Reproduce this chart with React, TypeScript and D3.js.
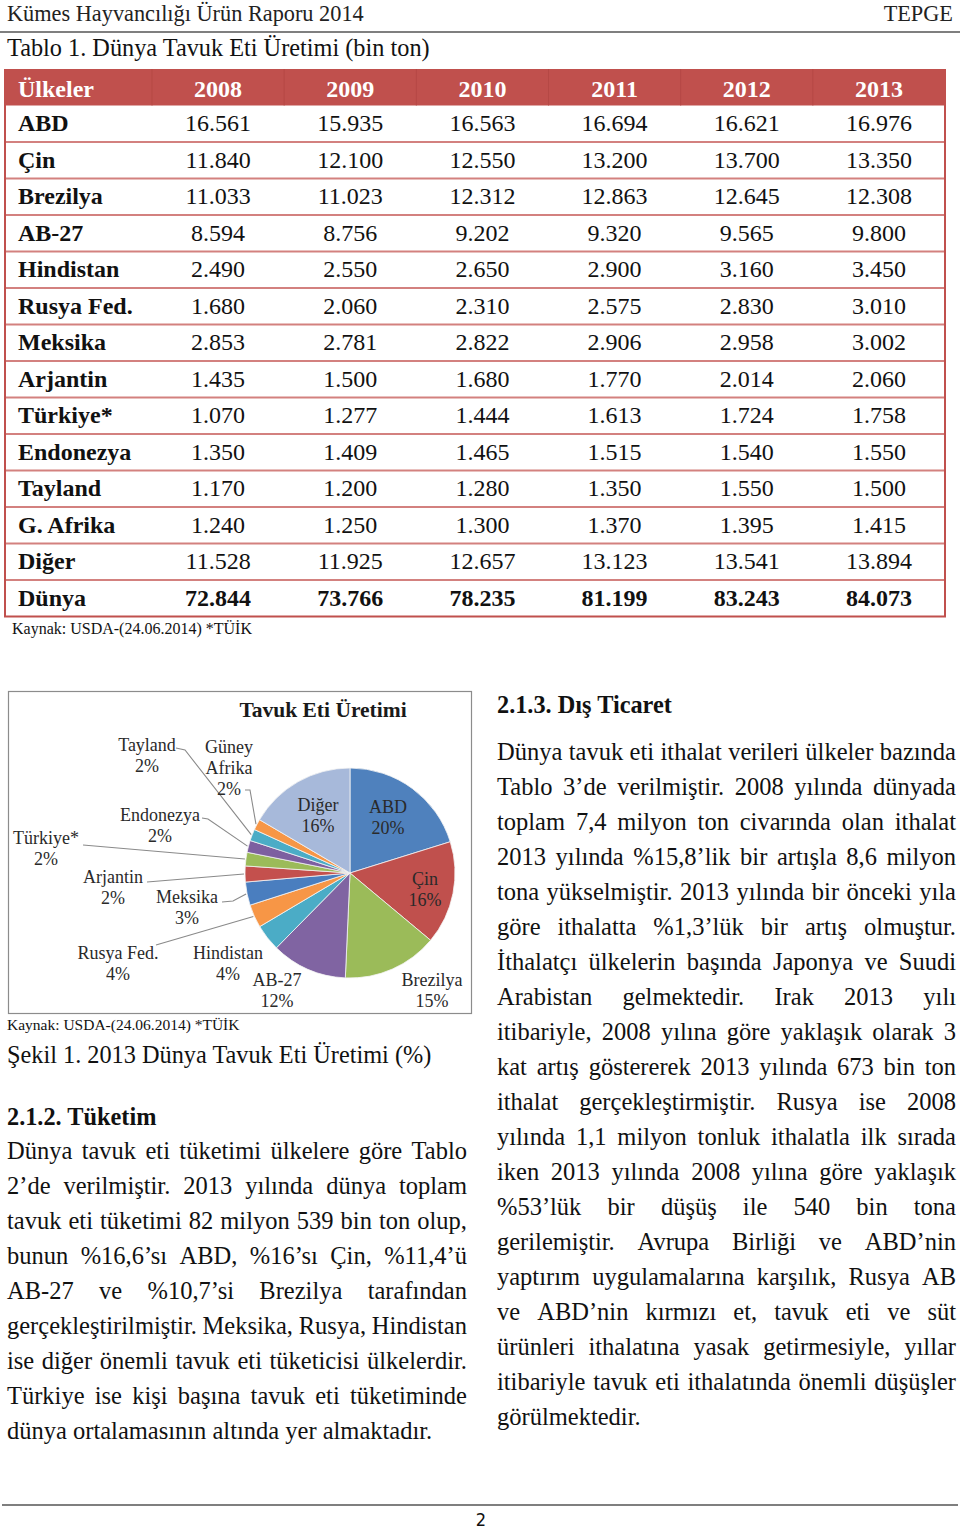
import React, { useMemo } from 'react';
import * as d3 from 'd3';

// ---------------- DATA ----------------
const years = ['2008', '2009', '2010', '2011', '2012', '2013'];
const countries = ['ABD', 'Çin', 'Brezilya', 'AB-27', 'Hindistan', 'Rusya Fed.', 'Meksika', 'Arjantin', 'Türkiye*', 'Endonezya', 'Tayland', 'G. Afrika', 'Diğer', 'Dünya'];
const prod2008 = [16561, 11840, 11033, 8594, 2490, 1680, 2853, 1435, 1070, 1350, 1170, 1240, 11528, 72844];
const prod2009 = [15935, 12100, 11023, 8756, 2550, 2060, 2781, 1500, 1277, 1409, 1200, 1250, 11925, 73766];
const prod2010 = [16563, 12550, 12312, 9202, 2650, 2310, 2822, 1680, 1444, 1465, 1280, 1300, 12657, 78235];
const prod2011 = [16694, 13200, 12863, 9320, 2900, 2575, 2906, 1770, 1613, 1515, 1350, 1370, 13123, 81199];
const prod2012 = [16621, 13700, 12645, 9565, 3160, 2830, 2958, 2014, 1724, 1540, 1550, 1395, 13541, 83243];
const prod2013 = [16976, 13350, 12308, 9800, 3450, 3010, 3002, 2060, 1758, 1550, 1500, 1415, 13894, 84073];
const yearSeries = [prod2008, prod2009, prod2010, prod2011, prod2012, prod2013];

const pieNames = ['ABD', 'Çin', 'Brezilya', 'AB-27', 'Hindistan', 'Rusya Fed.', 'Meksika', 'Arjantin', 'Türkiye*', 'Endonezya', 'Tayland', 'Güney Afrika', 'Diğer'];
const pieValues = prod2013.slice(0, 13);
const piePercents = ['20%', '16%', '15%', '12%', '4%', '4%', '3%', '2%', '2%', '2%', '2%', '2%', '16%'];
const pieColors = ['#4F81BD', '#C0504D', '#9BBB59', '#8064A2', '#4BACC6', '#F79646', '#4A7EBF', '#C4504D', '#9BBB59', '#7D5FA0', '#4BACC6', '#F79646', '#A7B9DA'];

const leftParagraph = [
  'Dünya tavuk eti tüketimi ülkelere göre Tablo',
  '2’de verilmiştir. 2013 yılında dünya toplam',
  'tavuk eti tüketimi 82 milyon 539 bin ton olup,',
  'bunun %16,6’sı ABD, %16’sı Çin, %11,4’ü',
  'AB-27 ve %10,7’si Brezilya tarafından',
  'gerçekleştirilmiştir. Meksika, Rusya, Hindistan',
  'ise diğer önemli tavuk eti tüketicisi ülkelerdir.',
  'Türkiye ise kişi başına tavuk eti tüketiminde',
  'dünya ortalamasının altında yer almaktadır.',
];
const rightParagraph = [
  'Dünya tavuk eti ithalat verileri ülkeler bazında',
  'Tablo 3’de verilmiştir. 2008 yılında dünyada',
  'toplam 7,4 milyon ton civarında olan ithalat',
  '2013 yılında %15,8’lik bir artışla 8,6 milyon',
  'tona yükselmiştir. 2013 yılında bir önceki yıla',
  'göre ithalatta %1,3’lük bir artış olmuştur.',
  'İthalatçı ülkelerin başında Japonya ve Suudi',
  'Arabistan gelmektedir. Irak 2013 yılı',
  'itibariyle, 2008 yılına göre yaklaşık olarak 3',
  'kat artış göstererek 2013 yılında 673 bin ton',
  'ithalat gerçekleştirmiştir. Rusya ise 2008',
  'yılında 1,1 milyon tonluk ithalatla ilk sırada',
  'iken 2013 yılında 2008 yılına göre yaklaşık',
  '%53’lük bir düşüş ile 540 bin tona',
  'gerilemiştir. Avrupa Birliği ve ABD’nin',
  'yaptırım uygulamalarına karşılık, Rusya AB',
  've ABD’nin kırmızı et, tavuk eti ve süt',
  'ürünleri ithalatına yasak getirmesiyle, yıllar',
  'itibariyle tavuk eti ithalatında önemli düşüşler',
  'görülmektedir.',
];

// ---------------- LAYOUT ----------------
const SERIF = "'Liberation Serif', 'Times New Roman', serif";
const W = 960;
const H = 1529;

// label layout for pie (x, first line center y, leader start points)
const pieLabelLayout: Record<string, { x: number; y: number; lead?: [number, number][] }> = {
  'ABD': { x: 388, y: 807 },
  'Çin': { x: 425, y: 879 },
  'Brezilya': { x: 432, y: 980 },
  'AB-27': { x: 277, y: 980 },
  'Hindistan': { x: 228, y: 953 },
  'Rusya Fed.': { x: 118, y: 953, lead: [[156, 945]] },
  'Meksika': { x: 187, y: 897, lead: [[222, 902], [233, 901]] },
  'Arjantin': { x: 113, y: 877, lead: [[147, 882]] },
  'Türkiye*': { x: 46, y: 838, lead: [[83, 845]] },
  'Endonezya': { x: 160, y: 815, lead: [[202, 818], [208, 819]] },
  'Tayland': { x: 147, y: 745, lead: [[176, 748], [185, 750]] },
  'Güney Afrika': { x: 229, y: 747, lead: [[245, 790], [250, 790]] },
  'Diğer': { x: 318, y: 805 },
};

const fmt = d3.formatLocale({ decimal: ',', thousands: '.', grouping: [3], currency: ['', ''] }).format(',');

let ctxCache: CanvasRenderingContext2D | null = null;
function measure(s: string, size: number, weight = 'normal') {
  if (!ctxCache) ctxCache = document.createElement('canvas').getContext('2d');
  const ctx = ctxCache!;
  ctx.font = `${weight} ${size}px 'Liberation Serif'`;
  return ctx.measureText(s).width;
}

function JustifiedLine({ text, x, width, y, size, justify }: { text: string; x: number; width: number; y: number; size: number; justify: boolean }) {
  if (!justify) {
    return (
      <text x={x} y={y} fontSize={size} fontFamily={SERIF} fill="#111">{text}</text>
    );
  }
  const words = text.split(' ');
  const widths = words.map((w) => measure(w, size));
  const total = d3.sum(widths);
  const gap = (width - total) / Math.max(1, words.length - 1);
  let cx = x;
  const xs = widths.map((w) => {
    const p = cx;
    cx += w + gap;
    return p;
  });
  return (
    <text y={y} fontSize={size} fontFamily={SERIF} fill="#111">
      {words.map((w, i) => (
        <tspan key={i} x={xs[i]}>{w}</tspan>
      ))}
    </text>
  );
}

function Table() {
  const col = d3.scaleBand<string>().domain(years).range([152, 945]);
  const row = d3.scaleBand<string>().domain(countries).range([105.5, 616.5]);
  const bw = row.bandwidth();
  return (
    <g>
      <rect x={5} y={69} width={940} height={36.5} fill="#C0504D" />
      {years.slice(1).map((y) => (
        <line key={y} x1={col(y)!} x2={col(y)!} y1={69} y2={105.5} stroke="#B54845" strokeWidth={1} />
      ))}
      <line x1={col('2008')!} x2={col('2008')!} y1={69} y2={105.5} stroke="#B54845" strokeWidth={1} />
      {countries.slice(0, -1).map((c) => (
        <line key={c} x1={5} x2={945} y1={row(c)! + bw} y2={row(c)! + bw} stroke="#D3817F" strokeWidth={1.8} />
      ))}
      <line x1={5} x2={5} y1={69} y2={617} stroke="#C0504D" strokeWidth={2} />
      <line x1={945} x2={945} y1={69} y2={617} stroke="#C0504D" strokeWidth={2} />
      <line x1={4} x2={946} y1={616.5} y2={616.5} stroke="#C0504D" strokeWidth={2} />
      <text x={18} y={97} fill="#fff" fontWeight="bold" fontSize={24} fontFamily={SERIF}>Ülkeler</text>
      {years.map((y) => (
        <text key={y} x={col(y)! + col.bandwidth() / 2} y={97} fill="#fff" fontWeight="bold" fontSize={24} fontFamily={SERIF} textAnchor="middle">{y}</text>
      ))}
      {countries.map((c, i) => {
        const yc = row(c)! + bw / 2 + 7.5;
        const bold = c === 'Dünya';
        return (
          <g key={c}>
            <text x={18} y={yc} fontWeight="bold" fontSize={24} fontFamily={SERIF} fill="#111">{c}</text>
            {years.map((y, j) => (
              <text key={y} x={col(y)! + col.bandwidth() / 2} y={yc} fontSize={24} fontWeight={bold ? 'bold' : 'normal'} fontFamily={SERIF} fill="#111" textAnchor="middle">
                {fmt(yearSeries[j][i])}
              </text>
            ))}
          </g>
        );
      })}
    </g>
  );
}

function Pie() {
  const cx = 350;
  const cy = 873;
  const R = 105;
  const arcs = d3.pie<number>().sort(null).value((d) => d)(pieValues);
  const arcGen = d3.arc<d3.PieArcDatum<number>>().innerRadius(0).outerRadius(R);
  return (
    <g>
      <rect x={8.5} y={691.5} width={463} height={322} fill="#fff" stroke="#8c8c8c" strokeWidth={1.2} />
      <text x={323} y={717} textAnchor="middle" fontWeight="bold" fontSize={21.5} fontFamily={SERIF} fill="#1a1a1a">Tavuk Eti Üretimi</text>
      <g transform={`translate(${cx},${cy})`}>
        {arcs.map((a, i) => (
          <path key={i} d={arcGen(a)!} fill={pieColors[i]} stroke="#f4f4f4" strokeWidth={0.8} />
        ))}
      </g>
      {arcs.map((a, i) => {
        const name = pieNames[i];
        const lay = pieLabelLayout[name];
        const mid = (a.startAngle + a.endAngle) / 2;
        const ex = cx + (R + 1) * Math.sin(mid);
        const ey = cy - (R + 1) * Math.cos(mid);
        const lines = name === 'Güney Afrika' ? ['Güney', 'Afrika', piePercents[i]] : [name, piePercents[i]];
        return (
          <g key={name}>
            {lay.lead && (
              <polyline
                points={[...lay.lead, [ex, ey]].map((p) => p.join(',')).join(' ')}
                fill="none"
                stroke="#8a8a8a"
                strokeWidth={1.1}
              />
            )}
            {lines.map((t, k) => (
              <text key={k} x={lay.x} y={lay.y + k * 21 + 6} textAnchor="middle" fontSize={18} fontFamily={SERIF} fill="#2a2a2a">{t}</text>
            ))}
          </g>
        );
      })}
    </g>
  );
}

export default function App() {
  const left = useMemo(() => leftParagraph, []);
  return (
    <svg width={W} height={H} viewBox={`0 0 ${W} ${H}`} style={{ position: 'absolute', left: 0, top: 0, display: 'block', background: '#fff' }}>
      <rect width={W} height={H} fill="#fff" />
      {/* page header */}
      <text x={7} y={21} fontSize={22.3} fontFamily={SERIF} fill="#222">Kümes Hayvancılığı Ürün Raporu 2014</text>
      <text x={953} y={21} fontSize={22.3} fontFamily={SERIF} fill="#222" textAnchor="end">TEPGE</text>
      <line x1={0} x2={960} y1={32} y2={32} stroke="#555" strokeWidth={1.6} />
      <text x={7} y={56} fontSize={24.3} fontFamily={SERIF} fill="#111">Tablo 1. Dünya Tavuk Eti Üretimi (bin ton)</text>

      <Table />
      <text x={12} y={634} fontSize={16} fontFamily={SERIF} fill="#111">Kaynak: USDA-(24.06.2014) *TÜİK</text>

      <Pie />
      <text x={7} y={1030} fontSize={15.5} fontFamily={SERIF} fill="#111">Kaynak: USDA-(24.06.2014) *TÜİK</text>
      <text x={7} y={1063} fontSize={24.3} fontFamily={SERIF} fill="#111">Şekil 1. 2013 Dünya Tavuk Eti Üretimi (%)</text>
      <text x={7} y={1125} fontSize={24.3} fontWeight="bold" fontFamily={SERIF} fill="#111">2.1.2. Tüketim</text>
      {left.map((t, i) => (
        <JustifiedLine key={i} text={t} x={7} width={460} y={1159 + i * 35} size={24.5} justify={i < left.length - 1} />
      ))}

      <text x={497} y={713} fontSize={24.3} fontWeight="bold" fontFamily={SERIF} fill="#111">2.1.3. Dış Ticaret</text>
      {rightParagraph.map((t, i) => (
        <JustifiedLine key={i} text={t} x={497} width={459} y={760 + i * 35} size={24.5} justify={i < rightParagraph.length - 1} />
      ))}

      <line x1={2} x2={958} y1={1505} y2={1505} stroke="#555" strokeWidth={1.6} />
      <text x={481} y={1526} textAnchor="middle" fontSize={18} fontFamily="'Liberation Sans Narrow', 'DejaVu Sans Condensed', sans-serif" fill="#111">2</text>
    </svg>
  );
}
